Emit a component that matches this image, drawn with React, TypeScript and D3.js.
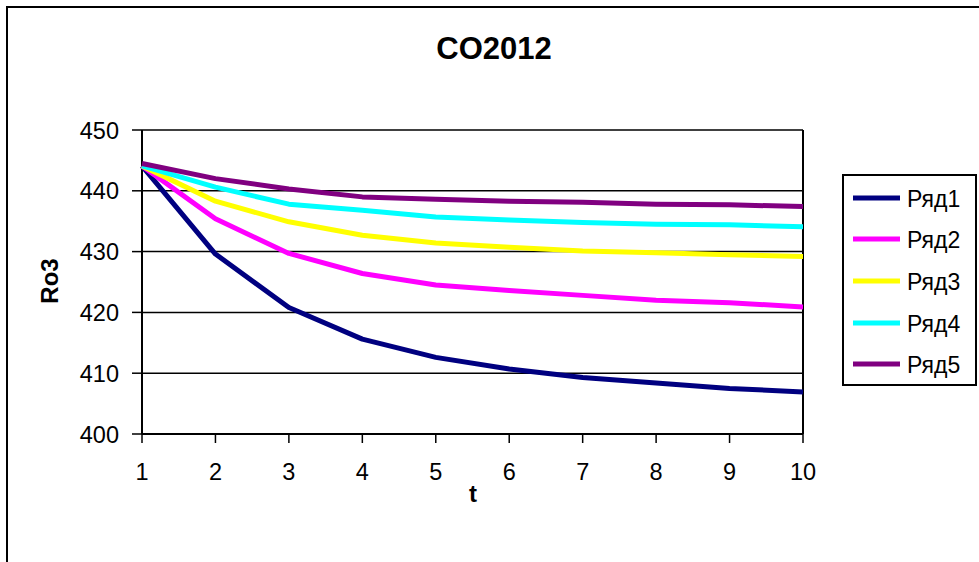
import React from "react";
import * as d3 from "d3";

const tValues = [1, 2, 3, 4, 5, 6, 7, 8, 9, 10];
const seriesNames = ["Ряд1", "Ряд2", "Ряд3", "Ряд4", "Ряд5"];
const seriesColors = ["#000080", "#FF00FF", "#FFFF00", "#00FFFF", "#800080"];
const ryad1 = [444.1, 429.6, 420.8, 415.6, 412.6, 410.7, 409.3, 408.4, 407.5, 406.9];
const ryad2 = [444.1, 435.4, 429.7, 426.4, 424.5, 423.6, 422.8, 422.0, 421.6, 420.9];
const ryad3 = [444.1, 438.3, 434.9, 432.7, 431.4, 430.7, 430.1, 429.8, 429.5, 429.2];
const ryad4 = [444.1, 440.6, 437.8, 436.8, 435.7, 435.2, 434.8, 434.5, 434.4, 434.1];
const ryad5 = [444.5, 442.0, 440.3, 439.0, 438.6, 438.3, 438.1, 437.8, 437.7, 437.4];
const yTicks = [400, 410, 420, 430, 440, 450];
const chartTitle = "CO2012";
const xTitle = "t";
const yTitle = "Ro3";

const allSeries = [ryad1, ryad2, ryad3, ryad4, ryad5];

export default function App() {
  const left = 142, right = 803, top = 130, bottom = 434;
  const x = d3.scaleLinear().domain([1, 10]).range([left, right]);
  const y = d3.scaleLinear().domain([400, 450]).range([bottom, top]);
  const line = d3
    .line<number>()
    .x((_, i) => x(tValues[i]))
    .y((d) => y(d));
  const font = "Arial, 'Liberation Sans', sans-serif";
  const legX = 843, legY = 175, legW = 133, legH = 210;
  const legRowY = [198, 239, 281, 323, 364];

  return (
    <svg
      width={979}
      height={562}
      style={{ position: "absolute", left: 0, top: 0, background: "#fff" }}
      fontFamily={font}
    >
      <rect x={0} y={0} width={979} height={562} fill="#fff" />
      <path d="M7,570 L7,7 L990,7" fill="none" stroke="#000" strokeWidth={2} />
      <text x={494} y={59} textAnchor="middle" fontWeight="bold" fontSize={31}>
        {chartTitle}
      </text>
      {yTicks.map((v) => (
        <g key={v}>
          {v !== 400 && (
            <line x1={left} x2={right} y1={y(v)} y2={y(v)} stroke="#000" strokeWidth={1.5} />
          )}
          <line x1={132} x2={left} y1={y(v)} y2={y(v)} stroke="#000" strokeWidth={1.5} />
          <text x={119} y={y(v) + 8.5} textAnchor="end" fontSize={23.5}>
            {v}
          </text>
        </g>
      ))}
      {tValues.map((t) => (
        <g key={t}>
          <line x1={x(t)} x2={x(t)} y1={bottom} y2={443} stroke="#000" strokeWidth={1.5} />
          <text x={x(t)} y={480} textAnchor="middle" fontSize={23.5}>
            {t}
          </text>
        </g>
      ))}
      <line x1={left} x2={left} y1={top} y2={bottom} stroke="#000" strokeWidth={2} />
      <line x1={right} x2={right} y1={top} y2={bottom} stroke="#000" strokeWidth={2} />
      <line x1={left} x2={right} y1={bottom} y2={bottom} stroke="#000" strokeWidth={2} />
      {allSeries.map((s, i) => (
        <path
          key={i}
          d={line(s) || ""}
          fill="none"
          stroke={seriesColors[i]}
          strokeWidth={5}
          strokeLinejoin="round"
        />
      ))}
      <text x={473} y={502} textAnchor="middle" fontWeight="bold" fontSize={24}>
        {xTitle}
      </text>
      <text
        transform={`translate(58,281) rotate(-90)`}
        textAnchor="middle"
        fontWeight="bold"
        fontSize={24}
      >
        {yTitle}
      </text>
      <rect x={legX} y={legY} width={legW} height={legH} fill="#fff" stroke="#000" strokeWidth={2} />
      {seriesNames.map((n, i) => (
        <g key={n}>
          <line x1={853} x2={900} y1={legRowY[i]} y2={legRowY[i]} stroke={seriesColors[i]} strokeWidth={5} />
          <text x={907} y={legRowY[i] + 8.5} fontSize={23}>
            {n}
          </text>
        </g>
      ))}
    </svg>
  );
}
